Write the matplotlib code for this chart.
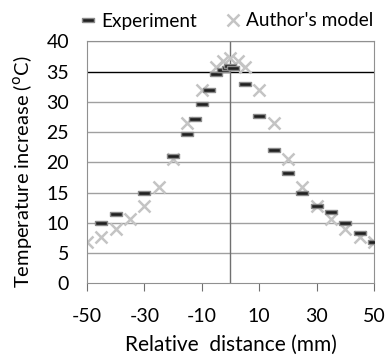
import numpy as np
import matplotlib.pyplot as plt

plt.rcParams['font.family'] = ['Lato', 'DejaVu Sans']
plt.rcParams['axes.unicode_minus'] = False

# dados
exp_x = [-45, -40, -30, -20, -15, -12.5, -10, -7.5, -5, -2.5, -1, 0, 1,
         5, 10, 15, 20, 25, 30, 35, 40, 45, 50]
exp_y = [10.0, 11.5, 14.9, 21.0, 24.7, 27.1, 29.7, 31.9, 34.6, 35.2, 35.6, 36.0, 35.6,
         32.9, 27.7, 22.0, 18.2, 14.9, 12.8, 11.8, 9.9, 8.4, 6.8]

model_x = [-50, -45, -40, -35, -30, -25, -20, -15, -10, -5, -2.5, 0, 2.5,
           5, 10, 15, 20, 25, 30, 35, 40, 45, 50]
model_y = [6.8, 7.6, 9.0, 10.7, 12.8, 16.0, 20.5, 26.5, 31.9, 35.8, 36.7, 37.2, 36.7,
           35.8, 31.9, 26.5, 20.5, 16.0, 12.8, 10.7, 9.0, 7.6, 6.8]

xticks = [-50, -30, -10, 10, 30, 50]
yticks = [0, 5, 10, 15, 20, 25, 30, 35, 40]

fig = plt.figure(figsize=(3.87, 3.6), dpi=100)
ax = fig.add_axes([0.2248, 0.213, 0.7416, 0.672])

# grade
for v in yticks[1:]:
    ax.axhline(v, color='black' if v == 35 else '#a0a0a0', lw=1, zorder=1)
ax.axvline(0, color='#707070', lw=1, zorder=1)

barra = [(-3, -1), (3, -1), (3, 1), (-3, 1), (-3, -1)]
ax.plot(model_x, model_y, ls='none', marker='x', ms=8, mew=1.8,
        color='#c4c4c4', label="Author's model", zorder=2)
ax.plot(exp_x, exp_y, ls='none', marker=barra, ms=9, mew=1,
        mfc='#202020', mec='#8a8a8a', label='Experiment', zorder=3)

ax.set_xlim(-50, 50)
ax.set_ylim(0, 40)
ax.set_xticks(xticks)
ax.set_yticks(yticks)
ax.tick_params(axis='y', length=0, labelsize=14, pad=13)
ax.tick_params(axis='x', length=6, direction='out', color='#707070', labelsize=14, pad=12)
for s in ax.spines.values():
    s.set_color('#909090')

ax.set_xlabel('Relative  distance (mm)', fontsize=15, labelpad=7)
ax.set_ylabel('Temperature increase ($^{\\mathrm{o}}$C)', fontsize=14.5)
ax.yaxis.set_label_coords(-0.185, 0.46)

h, l = ax.get_legend_handles_labels()
fig.legend(h[::-1], l[::-1], loc='center left', bbox_to_anchor=(80 / 387, 1 - 21 / 360),
           ncol=2, frameon=False, fontsize=13.7, handlelength=0.8, handletextpad=0.3,
           columnspacing=1.5, borderaxespad=0, borderpad=0)

plt.savefig('out.png', dpi=100)
